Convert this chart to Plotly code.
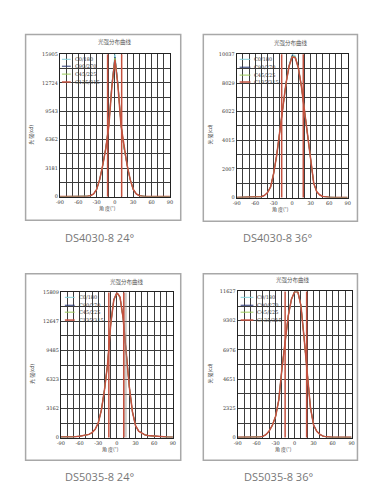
import plotly.graph_objects as go

W, H = 385, 491

# ---------------- data ----------------
angles = [-90, -80, -70, -60, -55, -50, -45, -40, -35, -30, -25, -20, -15, -10, -5, 0,
          5, 10, 15, 20, 25, 30, 35, 40, 45, 50, 55, 60, 70, 80, 90]
series_names = ["C0/180", "C90/270", "C45/225", "C135/315"]
captions = ["DS4030-8 24°", "DS4030-8 36°", "DS5035-8 24°", "DS5035-8 36°"]
chart_title = "光强分布曲线"

y_ticks_1 = [0, 3181, 6362, 9543, 12724, 15905]
y_ticks_2 = [0, 2007, 4015, 6022, 8029, 10037]
y_ticks_3 = [0, 3162, 6323, 9485, 12647, 15809]
y_ticks_4 = [0, 2325, 4651, 6976, 9302, 11627]
x_ticks = [-90, -60, -30, 0, 30, 60, 90]

# DS4030-8 24°
p1_c0 = [5, 5, 5, 8, 10, 15, 40, 100, 300, 800, 1900, 3500, 5400, 8100, 12600, 15905,
         12600, 8100, 5400, 3500, 1900, 800, 300, 100, 40, 15, 10, 8, 5, 5, 5]
p1_c90 = [5, 5, 5, 8, 10, 15, 40, 100, 300, 800, 1900, 3500, 5400, 8000, 12500, 15600,
          12500, 8000, 5400, 3500, 1900, 800, 300, 100, 40, 15, 10, 8, 5, 5, 5]
p1_c45 = [5, 5, 5, 8, 10, 15, 40, 100, 300, 800, 1900, 3500, 5400, 8000, 12400, 15500,
          12400, 8000, 5400, 3500, 1900, 800, 300, 100, 40, 15, 10, 8, 5, 5, 5]
p1_c135 = [5, 5, 5, 8, 10, 15, 40, 100, 300, 800, 1900, 3500, 5400, 7900, 12300, 15300,
           12300, 7900, 5400, 3500, 1900, 800, 300, 100, 40, 15, 10, 8, 5, 5, 5]

# DS4030-8 36°
p2_c0 = [10, 10, 10, 15, 30, 60, 150, 350, 750, 1700, 3000, 4700, 6400, 8000, 9300, 10037,
         9950, 9100, 7800, 6100, 4300, 2400, 1000, 400, 180, 80, 40, 20, 10, 10, 10]
p2_c90 = [10, 10, 10, 15, 30, 60, 150, 350, 750, 1700, 3000, 4700, 6400, 8000, 9250, 9950,
          9850, 9100, 7800, 6100, 4300, 2400, 1000, 400, 180, 80, 40, 20, 10, 10, 10]
p2_c45 = [10, 10, 10, 15, 30, 60, 150, 350, 750, 1700, 3000, 4700, 6400, 8000, 9200, 9900,
          9850, 9100, 7800, 6100, 4300, 2400, 1000, 400, 180, 80, 40, 20, 10, 10, 10]
p2_c135 = [10, 10, 10, 15, 30, 60, 150, 350, 750, 1700, 3000, 4700, 6400, 8000, 9200, 9850,
           9800, 9100, 7800, 6100, 4300, 2400, 1000, 400, 180, 80, 40, 20, 10, 10, 10]

# DS5035-8 24°
p3_c0 = [60, 60, 80, 150, 200, 250, 350, 550, 900, 1600, 3000, 5200, 8000, 12300, 15100, 15809,
         15300, 13000, 9000, 5500, 2800, 1300, 700, 450, 300, 220, 180, 150, 100, 60, 50]
p3_c90 = [60, 60, 80, 150, 200, 250, 350, 550, 900, 1600, 3000, 5200, 8000, 12300, 15000, 15750,
          15300, 13000, 9000, 5500, 2800, 1300, 700, 450, 300, 220, 180, 150, 100, 60, 50]
p3_c45 = [60, 60, 80, 150, 200, 250, 350, 550, 900, 1600, 3000, 5200, 8000, 12300, 15000, 15700,
          15250, 13000, 9000, 5500, 2800, 1300, 700, 450, 300, 220, 180, 150, 100, 60, 50]
p3_c135 = [60, 60, 80, 150, 200, 250, 350, 550, 900, 1600, 3000, 5200, 8000, 12300, 15000, 15800,
           15300, 13000, 9000, 5500, 2800, 1300, 700, 450, 300, 220, 180, 150, 100, 60, 50]

# DS5035-8 36°
p4_c0 = [20, 20, 20, 30, 50, 100, 250, 550, 1000, 1700, 3000, 5500, 7800, 9700, 11000, 11627,
         11627, 10500, 7900, 5000, 2400, 1000, 500, 250, 120, 60, 30, 20, 20, 20, 20]
p4_c90 = [20, 20, 20, 30, 50, 100, 250, 550, 1000, 1700, 3000, 5500, 7800, 9700, 11000, 11600,
          11600, 10500, 7900, 5000, 2400, 1000, 500, 250, 120, 60, 30, 20, 20, 20, 20]
p4_c45 = [20, 20, 20, 30, 50, 100, 250, 550, 1000, 1700, 3000, 5500, 7800, 9700, 11000, 11600,
          11600, 10500, 7900, 5000, 2400, 1000, 500, 250, 120, 60, 30, 20, 20, 20, 20]
p4_c135 = [20, 20, 20, 30, 50, 100, 250, 550, 1000, 1700, 3000, 5500, 7800, 9700, 11000, 11600,
           11627, 10500, 7900, 5000, 2400, 1000, 500, 250, 120, 60, 30, 20, 20, 20, 20]

beam_lines_1 = [-12, 11]
beam_lines_2 = [-17, 18]
beam_lines_3 = [-13, 11]
beam_lines_4 = [-15, 19]
band_3 = [11, 16]

# ---------------- layout / style ----------------
colors = ["#86d3dc", "#2b3a78", "#9ccc5a", "#c4503e"]
widths = [1, 1, 1, 1.5]
GRID = "#3c3c3c"
SERIF = "DejaVu Serif"

panels = [
    dict(series=[p1_c0, p1_c90, p1_c45, p1_c135], yt=y_ticks_1, beams=beam_lines_1, band=None,
         plot=(57, 169, 52, 196), box=(22, 180, 32, 220), title=(113, 39), cap=(97, 237),
         ytitle=(28, 133), xtitle=(105, 208), leg=(59, 68, 70, [57, 64, 72, 80])),
    dict(series=[p2_c0, p2_c90, p2_c45, p2_c135], yt=y_ticks_2, beams=beam_lines_2, band=None,
         plot=(237, 350, 52, 197), box=(203, 360, 32, 221), title=(292, 40), cap=(279, 237),
         ytitle=(210, 133), xtitle=(282, 209), leg=(240, 251, 253, [57, 65, 73, 80])),
    dict(series=[p3_c0, p3_c90, p3_c45, p3_c135], yt=y_ticks_3, beams=beam_lines_3, band=band_3,
         plot=(58, 172, 293, 440), box=(22, 180, 274, 463), title=(125, 282), cap=(97, 479),
         ytitle=(29, 375), xtitle=(108, 452), leg=(62, 72, 74, [298, 306, 313, 321])),
    dict(series=[p4_c0, p4_c90, p4_c45, p4_c135], yt=y_ticks_4, beams=beam_lines_4, band=None,
         plot=(238, 354, 292, 440), box=(203, 360, 274, 463), title=(294, 280), cap=(280, 479),
         ytitle=(210, 375), xtitle=(285, 452), leg=(241, 254, 256, [298, 306, 313, 321])),
]


def px(x):
    return x / W


def py(y):
    return 1 - y / H


def note(text, x, y, size, family, color, **kw):
    d = dict(text=text, x=px(x), y=py(y), xref="paper", yref="paper", showarrow=False,
             xanchor="center", yanchor="middle",
             font=dict(size=size, family=family, color=color))
    d.update(kw)
    return d


fig = go.Figure()
shapes = []
annotations = []
layout = {}

for i, p in enumerate(panels):
    n = "" if i == 0 else str(i + 1)
    xa, ya = "x" + n, "y" + n
    x0, x1, y0, y1 = p["plot"]
    yt = p["yt"]
    ymax = yt[-1]

    for name, vals, c, w in zip(series_names, p["series"], colors, widths):
        fig.add_trace(go.Scatter(x=angles, y=vals, mode="lines", name=name,
                                 line=dict(color=c, width=w), xaxis=xa, yaxis=ya,
                                 showlegend=False, hoverinfo="skip"))

    layout["xaxis" + n] = dict(
        domain=[px(x0), px(x1)], range=[-90, 90], anchor=ya,
        tickmode="array", tickvals=x_ticks, ticktext=[str(v) for v in x_ticks],
        showgrid=True, gridcolor=GRID, gridwidth=1,
        minor=dict(tick0=-90, dtick=10, showgrid=True, gridcolor=GRID, gridwidth=1),
        showline=True, linecolor="#222", linewidth=1, mirror=True, ticks="",
        zeroline=False, tickfont=dict(size=5, family=SERIF, color="#333"), fixedrange=True)
    layout["yaxis" + n] = dict(
        domain=[py(y1), py(y0)], range=[0, ymax], anchor=xa,
        tickmode="array", tickvals=yt, ticktext=[str(v) for v in yt],
        showgrid=True, gridcolor=GRID, gridwidth=1,
        minor=dict(tick0=0, dtick=yt[1] / 2, showgrid=True, gridcolor=GRID, gridwidth=1),
        showline=True, linecolor="#222", linewidth=1, mirror=True, ticks="",
        zeroline=False, tickfont=dict(size=5, family=SERIF, color="#333"), fixedrange=True)

    # outer frame
    bx0, bx1, by0, by1 = p["box"]
    shapes.append(dict(type="rect", xref="paper", yref="paper", x0=px(bx0), x1=px(bx1),
                       y0=py(by1), y1=py(by0), line=dict(color="#a8a8a8", width=1.5),
                       layer="below"))
    # beam angle markers
    if p["band"]:
        shapes.append(dict(type="rect", xref=xa, yref=ya + " domain", x0=p["band"][0],
                           x1=p["band"][1], y0=0, y1=1, fillcolor="rgba(150,140,130,0.45)",
                           line=dict(width=0), layer="above"))
    for b in p["beams"]:
        shapes.append(dict(type="line", xref=xa, yref=ya + " domain", x0=b, x1=b, y0=0, y1=1,
                           line=dict(color="#c4503e", width=1.5)))
    # legend
    lx0, lx1, tx, rows = p["leg"]
    for name, c, yy in zip(series_names, colors, rows):
        shapes.append(dict(type="line", xref="paper", yref="paper", x0=px(lx0), x1=px(lx1),
                           y0=py(yy), y1=py(yy),
                           line=dict(color=c, width=1.5 if c == colors[3] else 1)))
        annotations.append(note(name, tx, yy, 5, SERIF, "#333", xanchor="left"))
    # titles
    annotations.append(note(chart_title, p["title"][0], p["title"][1], 5.5,
                            "Noto Sans CJK SC", "#555"))
    annotations.append(note("光 强(cd)", p["ytitle"][0], p["ytitle"][1], 5,
                            "Noto Sans CJK SC", "#444", textangle=-90))
    annotations.append(note("角 度(°)", p["xtitle"][0], p["xtitle"][1], 5,
                            "Noto Sans CJK SC", "#444"))
    annotations.append(note(captions[i], p["cap"][0], p["cap"][1], 11, "Open Sans", "#777"))

fig.update_layout(width=W, height=H, margin=dict(l=0, r=0, t=0, b=0),
                  paper_bgcolor="white", plot_bgcolor="white", showlegend=False,
                  shapes=shapes, annotations=annotations, **layout)

fig.write_html("out.html", config={"displayModeBar": False},
               post_script="document.body.style.margin='0px';")
